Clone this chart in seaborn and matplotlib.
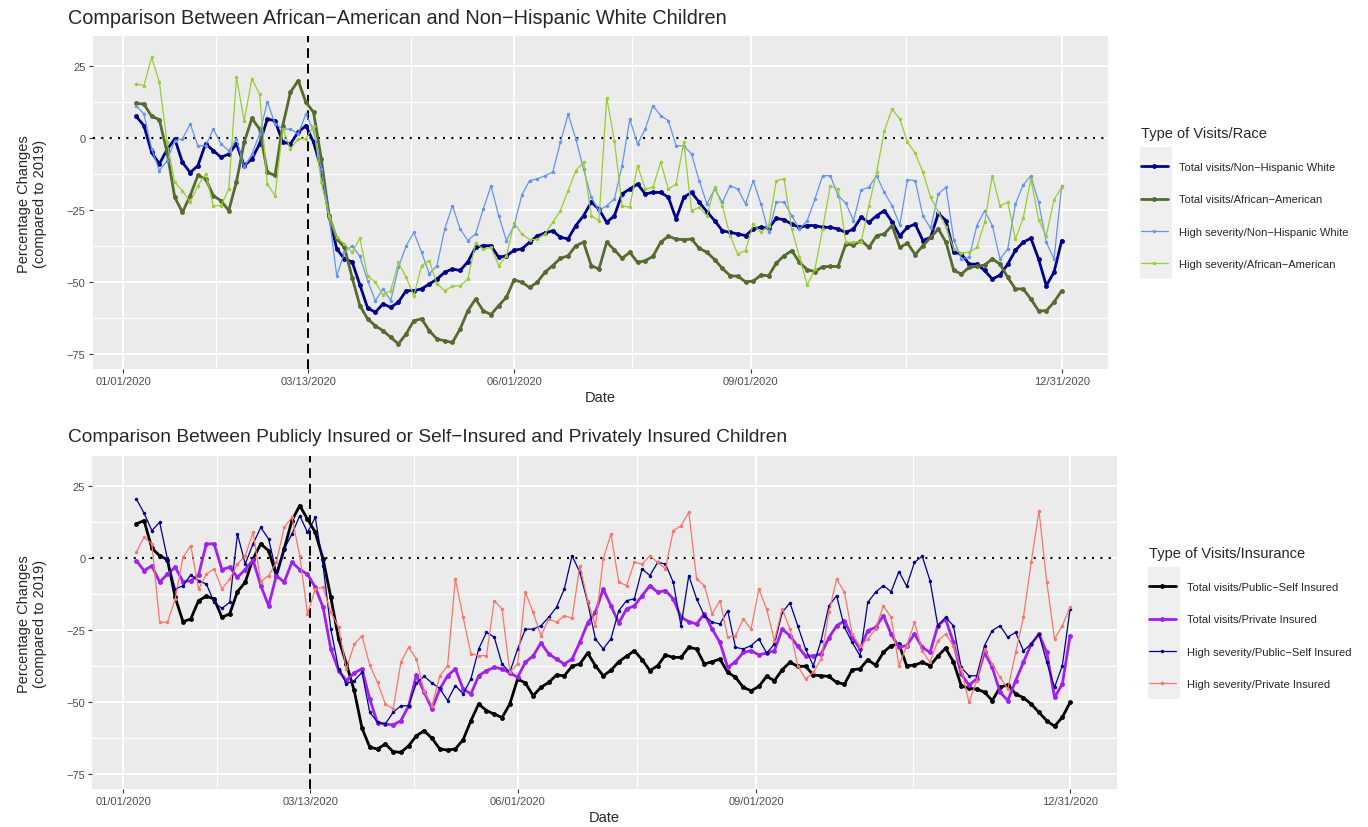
import matplotlib
matplotlib.use("Agg")
import matplotlib.dates as mdates
import matplotlib.pyplot as plt
import pandas as pd
import seaborn as sns
from matplotlib.lines import Line2D
from matplotlib.patches import Rectangle

sns.set_theme(style="darkgrid")
plt.rcParams["font.family"] = ["Liberation Sans", "DejaVu Sans"]

# sampled every third day, 2020-01-06 .. 2020-12-31
dates = pd.date_range("2020-01-06", "2020-12-31", freq="3D")

race_labels = [
    "Total visits/Non\u2212Hispanic White",
    "Total visits/African\u2212American",
    "High severity/Non\u2212Hispanic White",
    "High severity/African\u2212American",
]
insurance_labels = [
    "Total visits/Public\u2212Self Insured",
    "Total visits/Private Insured",
    "High severity/Public\u2212Self Insured",
    "High severity/Private Insured",
]

total_white = [
    7.5, 4.3, -5, -9, -4, -0.3, -8.5, -12, -9.6, -2, -4.4, -6.7, -5.6, -2, -9.6,
    -7.3, -2, 6.6, 6, -1.5, -2, 2, 4.3, -1.5, -10.8, -27, -38.5, -42, -43,
    -51, -59, -60.5, -57.6, -58.8, -57, -53, -53, -52.4, -50.7, -49, -46.6, -45.5,
    -46, -43, -38, -37.4, -37.4, -41.4, -40.9, -39, -38.5, -36.2, -34, -33, -32.2,
    -34.5, -35, -30.4, -27, -22.3, -24.7, -29.3,
    -27, -19.4, -17.7, -16, -19.4, -18.9, -18.9, -20.6, -28.1, -20.6, -18.9, -22.3,
    -25.6, -28.7, -32.2, -32.8, -33.3, -33.9, -31.6, -31, -31.3, -27.9, -28.4, -29.9,
    -31, -30.4, -30.4, -31, -31, -31.6, -32.8, -31.6, -27.5,
    -29.3, -27, -25.2, -29.1, -34, -31, -29.9, -35.6, -34.5, -26.2, -28.7, -39.7,
    -40.3, -43.8, -43.8, -46, -49, -47.6, -43.8, -39, -36.2, -34.8, -42, -51.3,
    -46.6, -35.6,
]
total_black = [
    12, 11.8, 7.5, 6.4, -5, -20.6, -25.8, -20, -13, -14.2, -20, -21.8, -25.2, -15.2,
    -1.5, 6.8, 3.1, -11.9, -13, 4.3, 15.9, 19.9, 12.4, 8.9, -7.3, -27, -35, -38, -48.5,
    -58.2, -62.8, -65.2, -66.9, -69.2, -71.5, -68, -63.4, -62.8, -66.9, -69.8, -70.4,
    -71, -66.3, -60, -55.9, -60, -61.3, -58.2, -55.3, -49.2, -50.1, -51.9, -50.1,
    -46.6, -44.3, -41.8, -40.9, -37.4, -36.2, -44.3, -45.5, -36.2,
    -38.8, -41.8, -39.7, -43.2, -42.6, -41.1, -36.2, -34.1, -35.1, -35.3, -35.1, -38.3,
    -39.7, -42.2, -45.3, -47.8, -48, -49.9, -49.7, -47.6, -47.8, -43.4, -40.9, -39.1,
    -43.2, -45.7, -46.4, -44.7, -44.6, -44.6, -36.8, -37.2, -35.6,
    -38, -33.9, -33.3, -30.4, -38, -36.5, -40.5, -37.4, -34.5, -31.6, -36.2, -46,
    -47.2, -44.9, -44.6, -44.1, -42, -43.8, -48.4, -52.4, -52.4, -55.9, -60, -60,
    -57, -53,
]
high_white = [
    11.2, 8.3, -3.8, -11.3, -7.9, -0.9, -0.3, 4.9, -2.7, -2.7, 3.1, -2.1, -4.4, -0.3,
    -10.2, -5.6, 1.4, 12.6, 4.9, 3.1, 3.1, 1.4, 8.3, 2.5, -10.8, -27, -47.8, -39.7, -37.4,
    -41.1, -49.5, -56.5, -52.4, -56.5, -44.9, -37.4, -32.8, -39.7, -47.2, -44.3, -31.6,
    -23.5, -31.6, -35.6, -33.3, -24.7, -16.6, -27, -35.6, -30.4, -19.8, -14.8, -14.2,
    -13.1, -11.9, -1.5, 8.3, -0.3, -10.8, -20.6, -25.2, -23.5,
    -21.2, -9.6, 6.6, -2.1, 3.1, 11.2, 7.8, 6, -2.7, -2.7, -5.6, -14.8, -22.9, -17.7,
    -22.3, -16.6, -17.7, -22.9, -14.8, -22.9, -32.8, -22.3, -22.3, -27, -31.6, -28.7,
    -21.2, -13.1, -13.1, -20, -22.6, -28.7, -18,
    -17.1, -13.1, -18.9, -23.5, -30.2, -14.5, -14.8, -27, -31.4, -19.4, -17.1, -35.3,
    -42, -41.4, -30.4, -25.2, -30.4, -42, -38.5, -22.9, -16.3, -13.1, -22.3, -36.2,
    -42, -16.6,
]
high_black = [
    18.8, 18.2, 28, 19.3, -1.5, -15.4, -18.3, -22.3, -16.6, -12.5, -23.5, -23.5, -17.7,
    21.1, 6, 20.5, 15.3, -16, -20, 3.1, -3.8, -0.3, -0.3, 4.3, -15.4, -27, -34.5, -36.8,
    -39.7,
    -34.8, -47.8, -50.1, -54.4, -53, -43.2, -48.4, -54.7, -44.3, -42.6, -50.7, -53,
    -51.5, -51.3, -49, -36.5, -38.5, -38, -44.3, -40.9, -29.5, -33.3, -35.3, -35.1,
    -33.3, -29.3, -25.2, -18.3, -11.3, -8.4, -27, -28.7, 14,
    -0.9, -23.5, -24.1, -9.6, -17.7, -17.1, -8.4, -17.7, -16, -1.5, -25.2, -24.1, -27,
    -17.1, -23.5, -33.9, -40.3, -39.1, -29.9, -32.8, -30.4, -14.8, -14.2, -31.6, -41.4,
    -51, -45.5, -31.6, -16.6, -17.7, -36.2, -36.2, -36,
    -23.5, -11.9, 2.5, 10, 6.6, -1.5, -5.2, -11.9, -20.6, -25.6, -31, -38.5, -39.9,
    -39.7, -38, -29.3, -13.1, -23.5, -22.3, -35.1, -27.9, -14.2, -28.4, -33.9, -21.4,
    -17.1,
]

total_public = [
    11.8, 13, 3.4, 0.8, -0.6, -13.7, -22.1, -21.2, -14.8, -13.3, -14.2, -20.6, -19.4,
    -11.7, -8.4, -0.3, 4.9, 2.5, -6.1, 3.1, 13, 18.2, 13.5, 8.9, -0.3, -13.7, -28.1,
    -36.8, -46,
    -59, -65.7, -66.3, -64.6, -67.2, -67.5, -65.2, -61.7, -60, -62.6, -66.3, -66.7,
    -66.3, -63.1, -56.5, -50.7, -53, -54.2, -55.4, -50.7, -42, -43.4, -47.8, -44.9,
    -43.2, -40.6, -40.9, -37.6, -36.8, -33, -37.4, -40.9, -39,
    -36, -34.1, -32.2, -35.3, -39.1, -37.4, -33.7, -34.5, -34.5, -31, -31.6, -36.8,
    -36, -35.1, -39.7, -41.4, -44.9, -46.1, -44.6, -41.1, -42.6, -38.8, -36.2, -37.6,
    -37.6, -40.6, -40.9, -41.1, -43.2, -43.8, -38.8, -38.5,
    -35.3, -37.2, -32.8, -30.4, -29.9, -37.4, -37.2, -36.2, -37.4, -34.1, -31.3, -36,
    -44.3, -45.3, -45.5, -46.6, -49.5, -44.9, -44, -47.2, -48.5, -50.7, -53.6, -56.5,
    -58.4, -55.3, -50.1,
]
total_private = [
    -0.9, -4.4, -2.7, -8.4, -5.6, -3.2, -8.2, -7.9, -5.9, 4.9, 4.9, -4, -3.2, -6.7, -4,
    -0.7, -9.6, -16.6, -6.1, -8.4, -1.5, -4, -5.6, -10.2, -17.1, -31.6, -39.1, -42.6,
    -39.9,
    -38.5, -49, -57.3, -57.6, -58, -56.5, -51.3, -40.6, -46.6, -52.4, -45.5, -40.9,
    -38.5, -45.5, -47.2, -40.9, -39.1, -38, -38.5, -39.9, -41.4, -36.2, -34, -29.5,
    -33.3, -35.1, -36.8, -35.1, -29.3, -22.6, -18.9, -10.8, -16.6,
    -22.6, -17.7, -16.6, -13.1, -9.6, -11.9, -11.3, -14.2, -20.6, -22.1, -22.9, -19.4,
    -24.7, -29.3, -38, -36, -32.8, -32.2, -33.6, -33, -32.2, -24.7, -27, -30.7, -34,
    -34, -33.3, -27.7, -23.5, -21.8, -27.5, -31.6,
    -25.2, -24.1, -20, -26.4, -31, -30.4, -26.4, -31, -32.8, -23.5, -21.2, -29.3, -40.3,
    -44.1, -42, -32.8, -38, -46.6, -49.5, -42.6, -36.2, -29.9, -26.4, -32.8, -48.4,
    -43.8, -27,
]
high_public = [
    20.5, 15.6, 9.5, 12.4, -0.3, -10.8, -9.6, -5.9, -7.9, -9, -15.4, -17.5, -15.4, 8.3,
    -2.1, 4.9, 10.6, 6.6, -5, 3.1, 8.3, 14.7, 8.9, 14.1, -2.7, -24.7, -38.5, -43.7, -42.6,
    -39.7, -53.6, -57, -57.6, -53.6, -51.3, -51.3, -43.4, -41.1, -43.4, -45.3, -49.5,
    -44.3, -47.2, -42, -31.6, -25.8, -27.5, -36.8, -39.7, -31.6, -24.7, -24.7, -23.5,
    -20.6, -17.1, -10.8, 0.8, -5, -15.4, -28.1, -31.6, -28,
    -18.3, -14.8, -14.2, -3.8, -6.1, -1.5, -2.1, -8.4, -23.5, -6.1, -14.2, -20, -22.3,
    -22.9, -18.3, -31, -31.6, -30.4, -28.1, -33, -29.9, -18.9, -15.6, -23.5, -31.6,
    -37.4, -28.7, -16.6, -13.1, -24.1, -29.3, -34,
    -15.4, -11.9, -9.6, -11.7, -4.7, -9.8, -1.5, 0.6, -7.9, -23.5, -20.6, -23.5, -38,
    -40.9, -40.9, -30.4, -25.2, -23.5, -27.5, -25.8, -32.2, -29.9, -26.4, -36.2, -44.9,
    -37.4, -17.7,
]
high_private = [
    2, 7.2, 4.9, -22.3, -22.3, -14.2, 0.2, 4.3, -10.8, -5.6, -3.8, -10.8, -7.3, -2.1,
    0.8, 8.9, -8.2, -6.1, -1.5, 10.6, 14.1, 0.8, -19.4, -10.8, -10.2, -18.9, -24.1,
    -38.5, -30,
    -27, -37.2, -43.2, -50.7, -52.4, -36.2, -31, -35.1, -46.3, -51.3, -40.9, -37.4,
    -7.3, -20.6, -33.3, -33.9, -33.9, -14.8, -17.7, -39.7, -36.8, -11.9, -18.9, -27,
    -21.2, -22.3, -20, -20.9, -2.7, -14.8, -23.5, -0.3, 8.3,
    -8.4, -9.6, -1.5, -2.1, 0.8, -1.5, -3.8, 9.5, 11.2, 15.9, -7.3, -9.6, -19.4, -14.8,
    -27.5, -27, -21.2, -24.7, -10.8, -17.7, -28.7, -17.7, -24.7, -37.4, -42, -39.7,
    -35.1, -18.9, -7.3, -11.9, -26.4, -30.7,
    -28.1, -24.7, -16.6, -20.6, -37.4, -30.4, -22.3, -32.2, -36.2, -28.7, -26.4, -30.4,
    -38.5, -50.1, -42.6, -31.6, -36.8, -41.4, -45.5, -32.8, -20.6, -1.5, 16.4, -8.4,
    -28.1, -23.5, -17.1,
]

tick_dates = pd.to_datetime(["2020-01-01", "2020-03-13", "2020-06-01", "2020-09-01", "2020-12-31"])
lockdown = pd.Timestamp("2020-03-13")

W, H = 1368, 828
fig = plt.figure(figsize=(W / 100, H / 100), dpi=100)


def draw_panel(ax, series, labels, colors, widths, msizes, title, title_y, title_size,
               legend_title, legend_x, legend_y, key_box):
    for vals, lab, col, lw, ms in zip(series, labels, colors, widths, msizes):
        frame = pd.DataFrame({"Date": dates, "Change": vals})
        sns.lineplot(data=frame, x="Date", y="Change", ax=ax, color=col, linewidth=lw,
                     marker="o", markersize=ms, markeredgewidth=0, legend=False)

    ax.axhline(0, color="black", linestyle=(0, (1, 3)), linewidth=1.5, zorder=1)
    ax.axvline(lockdown, color="black", linestyle=(0, (5, 3)), linewidth=1.4, zorder=1)

    ax.set_facecolor("#EBEBEB")
    for s in ax.spines.values():
        s.set_visible(False)
    ax.set_xlim(pd.Timestamp("2019-12-20"), pd.Timestamp("2021-01-18"))
    ax.set_ylim(-80.2, 35.3)
    ax.set_xticks(tick_dates)
    mids = tick_dates[:-1] + (tick_dates[1:] - tick_dates[:-1]) / 2
    ax.set_xticks(mids, minor=True)
    ax.xaxis.set_major_formatter(mdates.DateFormatter("%m/%d/%Y"))
    ax.set_yticks([-75, -50, -25, 0, 25])
    ax.set_yticks([-62.5, -37.5, -12.5, 12.5], minor=True)
    ax.grid(which="major", color="white", linewidth=1.3)
    ax.grid(which="minor", color="white", linewidth=0.8)
    ax.tick_params(which="major", length=3, width=0.8, color="#333333",
                   labelsize=8, labelcolor="#4D4D4D", pad=2, bottom=True, left=True)
    ax.tick_params(which="minor", length=0)
    ax.set_xlabel("Date", fontsize=10.5, labelpad=3)
    ax.set_ylabel("Percentage Changes\n(compared to 2019)", fontsize=10.5, labelpad=14)

    fig.text(68 / W, 1 - title_y / H, title, fontsize=title_size, ha="left", va="center")

    handles = [Line2D([], [], color=c, linewidth=lw, marker="o", markersize=ms,
                      markeredgewidth=0) for c, lw, ms in zip(colors, widths, msizes)]
    ax.legend(handles, labels, title=legend_title, loc="upper left",
              bbox_to_anchor=(legend_x / W, 1 - legend_y / H), bbox_transform=fig.transFigure,
              frameon=False, fontsize=8, title_fontsize=10.5, handlelength=2.4,
              handletextpad=1.0, labelspacing=2.0, borderpad=0, borderaxespad=0,
              alignment="left")
    x0, y0, x1, y1 = key_box
    fig.patches.append(Rectangle((x0 / W, 1 - y1 / H), (x1 - x0) / W, (y1 - y0) / H,
                                 transform=fig.transFigure, facecolor="#EFEFEF",
                                 edgecolor="none", zorder=-1))


ax_top = fig.add_axes([92.5 / W, 1 - 370 / H, (1108 - 92.5) / W, (370 - 37.3) / H])
draw_panel(ax_top, [total_white, total_black, high_white, high_black], race_labels,
           ["#00008B", "#556B2F", "#6495ED", "#9ACD32"], [2.0, 2.0, 0.9, 0.9], [3.5, 3.5, 2.5, 2.5],
           "Comparison Between African\u2212American and Non\u2212Hispanic White Children", 18, 14.3,
           "Type of Visits/Race", 1141, 127, (1140, 148, 1172, 280))

ax_bot = fig.add_axes([92.2 / W, 1 - 790 / H, (1116.8 - 92.2) / W, (790 - 457.3) / H])
draw_panel(ax_bot, [total_public, total_private, high_public, high_private], insurance_labels,
           ["#000000", "#A020F0", "#00008B", "#F8766D"], [2.0, 2.0, 0.9, 0.9], [3.5, 3.5, 2.5, 2.5],
           "Comparison Between Publicly Insured or Self\u2212Insured and Privately Insured Children", 438, 13.8,
           "Type of Visits/Insurance", 1149, 547, (1148, 568, 1180, 700))

fig.savefig("out.png", dpi=100)
